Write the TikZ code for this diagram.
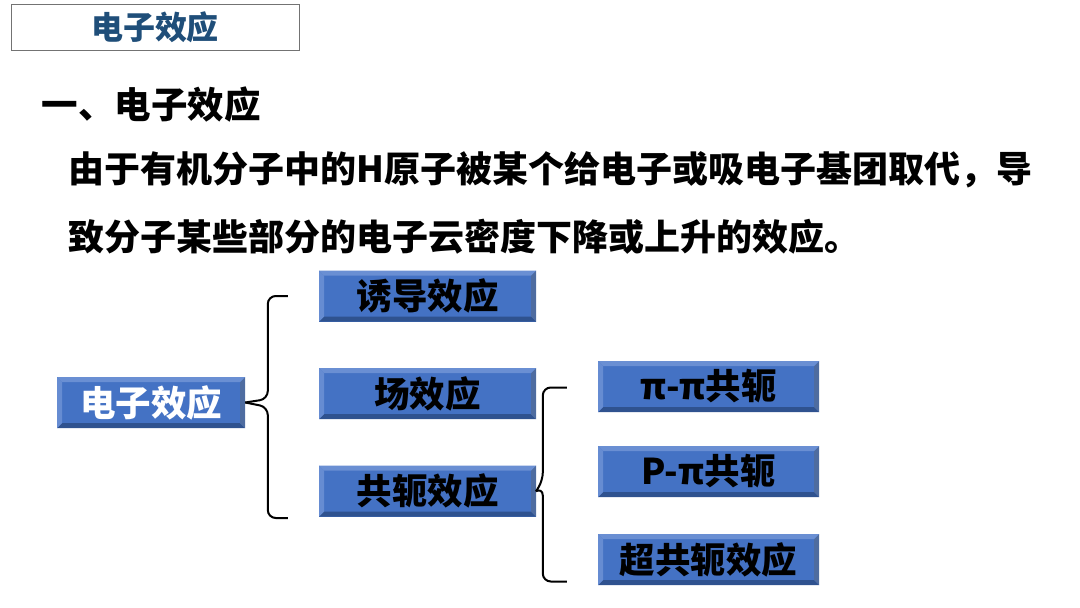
\documentclass[tikz,border=0pt]{standalone}
\usepackage{fontspec}
\setmainfont{Noto Sans CJK SC}
\usepackage{tikz}
\usetikzlibrary{positioning,calc}
\usepackage{xcolor}
\definecolor{boxc}{HTML}{4472C4}
\definecolor{boxdark}{HTML}{2F528F}
\definecolor{boxlight}{HTML}{6A8FD3}
\definecolor{titlec}{HTML}{1F4E79}

\tikzset{
  ebox/.style={fill=boxc, minimum width=217pt, minimum height=51pt, inner sep=0pt,
    font=\fontsize{35.5}{38}\selectfont\bfseries,
    path picture={
      \fill[boxdark] (path picture bounding box.south west) -- (path picture bounding box.south east)
        -- ([shift={(-5pt,5pt)}]path picture bounding box.south east) -- ([shift={(5pt,5pt)}]path picture bounding box.south west) -- cycle;
      \fill[boxdark!85] (path picture bounding box.south east) -- (path picture bounding box.north east)
        -- ([shift={(-5pt,-5pt)}]path picture bounding box.north east) -- ([shift={(-5pt,5pt)}]path picture bounding box.south east) -- cycle;
      \fill[boxlight] (path picture bounding box.north west) -- (path picture bounding box.north east)
        -- ([shift={(-5pt,-5pt)}]path picture bounding box.north east) -- ([shift={(5pt,-5pt)}]path picture bounding box.north west) -- cycle;
      \fill[boxlight!90!boxc] (path picture bounding box.north west) -- (path picture bounding box.south west)
        -- ([shift={(5pt,5pt)}]path picture bounding box.south west) -- ([shift={(5pt,-5pt)}]path picture bounding box.north west) -- cycle;
    }},
  bracec/.style={line width=2pt, rounded corners=8pt},
  bodytext/.style={anchor=west, font=\fontsize{36}{40}\selectfont\bfseries}
}

\begin{document}
\begin{tikzpicture}[x=1pt, y=-1pt]
  \useasboundingbox (0,0) rectangle (1080,608);
  % title bar
  \node[draw=black!55, minimum width=288pt, minimum height=46pt, inner sep=0pt,
    text=titlec, font=\fontsize{32}{36}\selectfont\bfseries] (title) at (155,27) {电子效应};
  % heading and definition
  \node[bodytext, font=\fontsize{36.5}{40}\selectfont\bfseries] (head) at (38,105) {一、电子效应};
  \node[bodytext] (line1) at (65,170) {由于有机分子中的H原子被某个给电子或吸电子基团取代，导};
  \node[bodytext] (line2) at (65,237) {致分子某些部分的电子云密度下降或上升的效应。};
  % boxes
  \node[ebox, minimum width=188pt, text=white] (elec) at (151,402.5) {电子效应};
  \node[ebox] (induct) at (427.5,296) {诱导效应};
  \node[ebox] (field) at (427.5,393.5) {场效应};
  \node[ebox] (conj) at (427.5,491) {共轭效应};
  \node[ebox, minimum width=221pt] (pipi) at (708.5,386.5) {π-π共轭};
  \node[ebox, minimum width=221pt] (ppi) at (708.5,471.5) {P-π共轭};
  \node[ebox, minimum width=221pt] (hyper) at (708.5,559.5) {超共轭效应};
  % braces
  \coordinate (b1top) at ($(induct.west)+(-31,0)$);
  \coordinate (b1bot) at ($(conj.west)+(-31,27)$);
  \coordinate (b2top) at ($(pipi.west)+(-31,1)$);
  \coordinate (b2bot) at ($(hyper.west)+(-31,22)$);
  \draw[bracec] (b1top) -- ++(-20,0) -- ++(0,103) -- (elec.east);
  \draw[bracec] (b1bot) -- ++(-20,0) -- ++(0,-111) -- (elec.east);
  \draw[bracec] (b2top) -- ++(-24,0) -- ++(0,93) -- (conj.east);
  \draw[bracec] (b2bot) -- ++(-24,0) -- ++(0,-94) -- (conj.east);
\end{tikzpicture}
\end{document}
